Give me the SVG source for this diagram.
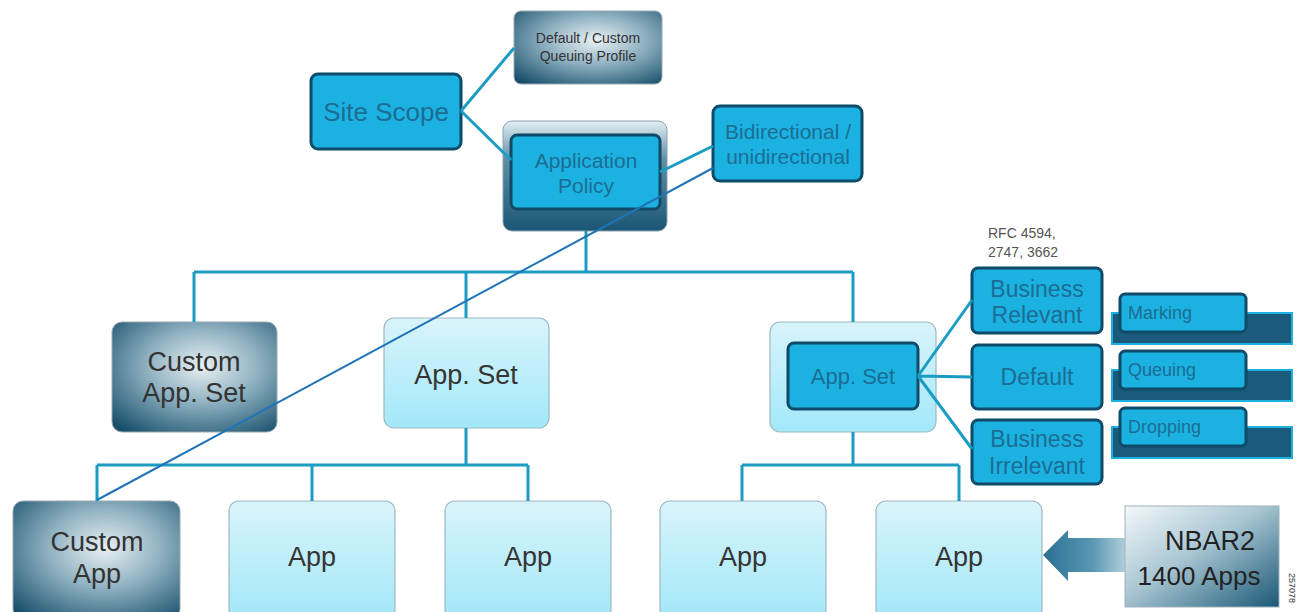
<svg xmlns="http://www.w3.org/2000/svg" width="1297" height="612" viewBox="0 0 1297 612">
<defs>
<radialGradient id="dark" cx="0.55" cy="0.4" r="0.75">
<stop offset="0" stop-color="#e9f0f3"/>
<stop offset="0.45" stop-color="#8fb1c1"/>
<stop offset="1" stop-color="#174f6b"/>
</radialGradient>
<linearGradient id="polOuter" x1="0" y1="0" x2="0" y2="1">
<stop offset="0" stop-color="#e4eff4"/>
<stop offset="0.35" stop-color="#5d8ea6"/>
<stop offset="1" stop-color="#1b5674"/>
</linearGradient>
<linearGradient id="light" x1="0" y1="0" x2="0" y2="1">
<stop offset="0" stop-color="#d9f4fb"/>
<stop offset="1" stop-color="#a2e8f9"/>
</linearGradient>
<linearGradient id="nbar" x1="0" y1="0" x2="1" y2="1">
<stop offset="0" stop-color="#f3f8fa"/>
<stop offset="0.45" stop-color="#a9c6d3"/>
<stop offset="1" stop-color="#1a5876"/>
</linearGradient>
<linearGradient id="arrow" x1="0" y1="0" x2="1" y2="0">
<stop offset="0" stop-color="#2a6f90"/>
<stop offset="0.6" stop-color="#5a98b5"/>
<stop offset="1" stop-color="#b3cfdb"/>
</linearGradient>
<style>
.t{font-family:"Liberation Sans",Arial,sans-serif;text-anchor:middle}
.cy{fill:#1bb2e2;stroke:#0f4b68;stroke-width:3}
.cyt{fill:#1b6d94}
.dk{fill:url(#dark);stroke:#9aa9b0;stroke-width:1}
.dkt{fill:#333}
.lt{fill:url(#light);stroke:#9fb8c2;stroke-width:1.2}
.ltt{fill:#353535}
.con{fill:none;stroke:#1a9cc3;stroke-width:3}
.sub{fill:#1a5a7a;stroke:#1bb2e2;stroke-width:2}
</style>
</defs>

<g id="queuing-profile">
<rect class="dk" x="514" y="11" width="148" height="73" rx="7"/>
<text class="t dkt" x="588" y="43" font-size="14">Default / Custom</text>
<text class="t dkt" x="588" y="61" font-size="14">Queuing Profile</text>
</g>

<g id="site-scope">
<rect class="cy" x="311" y="74" width="150" height="75" rx="7"/>
<text class="t cyt" x="386" y="121" font-size="26">Site Scope</text>
</g>

<g id="application-policy">
<rect x="503" y="121" width="164" height="110" rx="9" fill="url(#polOuter)" stroke="#8aa3ae" stroke-width="1"/>
<rect class="cy" x="511" y="135" width="149" height="74" rx="6"/>
<text class="t cyt" x="586" y="168" font-size="21">Application</text>
<text class="t cyt" x="586" y="193" font-size="21">Policy</text>
</g>

<g id="bidirectional">
<rect class="cy" x="713" y="106" width="149" height="75" rx="7"/>
<text class="t cyt" x="788" y="139" font-size="21">Bidirectional /</text>
<text class="t cyt" x="788" y="164" font-size="21">unidirectional</text>
</g>

<g id="custom-app-set">
<rect class="dk" x="112" y="322" width="165" height="110" rx="10"/>
<text class="t dkt" x="194" y="371" font-size="27">Custom</text>
<text class="t dkt" x="194" y="402" font-size="27">App. Set</text>
</g>

<g id="app-set-middle">
<rect class="lt" x="384" y="318" width="165" height="110" rx="10"/>
<text class="t ltt" x="466" y="384" font-size="27">App. Set</text>
</g>

<g id="app-set-right">
<rect class="lt" x="770" y="322" width="166" height="110" rx="10"/>
<rect class="cy" x="788" y="343" width="130" height="66" rx="6"/>
<text class="t cyt" x="853" y="384" font-size="22">App. Set</text>
</g>

<g id="rfc-note">
<text x="988" y="238" font-family="'Liberation Sans',Arial,sans-serif" font-size="14" fill="#555">RFC 4594,</text>
<text x="988" y="257" font-family="'Liberation Sans',Arial,sans-serif" font-size="14" fill="#555">2747, 3662</text>
</g>

<g id="business-relevant">
<rect class="cy" x="972" y="268" width="130" height="65" rx="6"/>
<text class="t cyt" x="1037" y="297" font-size="23">Business</text>
<text class="t cyt" x="1037" y="323" font-size="23">Relevant</text>
</g>

<g id="default">
<rect class="cy" x="972" y="345" width="130" height="64" rx="6"/>
<text class="t cyt" x="1037" y="385" font-size="23">Default</text>
</g>

<g id="business-irrelevant">
<rect class="cy" x="972" y="420" width="130" height="64" rx="6"/>
<text class="t cyt" x="1037" y="447" font-size="23">Business</text>
<text class="t cyt" x="1037" y="474" font-size="23">Irrelevant</text>
</g>

<g id="marking">
<rect class="sub" x="1112" y="313" width="180" height="31"/>
<rect class="cy" x="1120" y="294" width="126" height="38" rx="5" stroke-width="2.5"/>
<text x="1128" y="319" font-family="'Liberation Sans',Arial,sans-serif" font-size="18" fill="#1b6d94">Marking</text>
</g>

<g id="queuing">
<rect class="sub" x="1112" y="370" width="180" height="31"/>
<rect class="cy" x="1120" y="351" width="126" height="38" rx="5" stroke-width="2.5"/>
<text x="1128" y="376" font-family="'Liberation Sans',Arial,sans-serif" font-size="18" fill="#1b6d94">Queuing</text>
</g>

<g id="dropping">
<rect class="sub" x="1112" y="427" width="180" height="31"/>
<rect class="cy" x="1120" y="408" width="126" height="38" rx="5" stroke-width="2.5"/>
<text x="1128" y="433" font-family="'Liberation Sans',Arial,sans-serif" font-size="18" fill="#1b6d94">Dropping</text>
</g>

<g id="custom-app">
<rect class="dk" x="13" y="501" width="167" height="118" rx="10"/>
<text class="t dkt" x="97" y="551" font-size="27">Custom</text>
<text class="t dkt" x="97" y="583" font-size="27">App</text>
</g>

<g id="app-1">
<rect class="lt" x="229" y="501" width="166" height="118" rx="10"/>
<text class="t ltt" x="312" y="566" font-size="27">App</text>
</g>
<g id="app-2">
<rect class="lt" x="445" y="501" width="166" height="118" rx="10"/>
<text class="t ltt" x="528" y="566" font-size="27">App</text>
</g>
<g id="app-3">
<rect class="lt" x="660" y="501" width="166" height="118" rx="10"/>
<text class="t ltt" x="743" y="566" font-size="27">App</text>
</g>
<g id="app-4">
<rect class="lt" x="876" y="501" width="166" height="118" rx="10"/>
<text class="t ltt" x="959" y="566" font-size="27">App</text>
</g>

<g id="nbar2">
<path d="M1043,555 L1068,530 L1068,538 L1126,538 L1126,572 L1068,572 L1068,581 Z" fill="url(#arrow)"/>
<rect x="1125" y="506" width="154" height="101" fill="url(#nbar)" stroke="#9fb3bc" stroke-width="1"/>
<text class="t" x="1210" y="550" font-size="27" fill="#222">NBAR2</text>
<text class="t" x="1199" y="585" font-size="26" fill="#222">1400 Apps</text>
</g>

<g id="connectors">
<path class="con" d="M461,111 L514,48 M461,111 L511,160"/>
<path class="con" d="M660,172 L713,146"/>
<path class="con" d="M586,231 L586,272 M194,272 L853,272 M194,272 L194,322 M466,272 L466,318 M853,272 L853,322"/>
<path class="con" d="M466,428 L466,465 M97,465 L528,465 M97,465 L97,501 M312,465 L312,501 M528,465 L528,501"/>
<path class="con" d="M853,432 L853,465 M742,465 L959,465 M742,465 L742,501 M959,465 L959,501"/>
<path class="con" d="M918,376 L972,300 M918,376 L972,377 M918,376 L972,449"/>
<path d="M97,500 L713,168" fill="none" stroke="#1f74b8" stroke-width="2"/>
</g>

<text x="1289" y="588" font-family="'Liberation Sans',Arial,sans-serif" font-size="9" fill="#333" text-anchor="middle" transform="rotate(90 1289 588)">257078</text>
</svg>
